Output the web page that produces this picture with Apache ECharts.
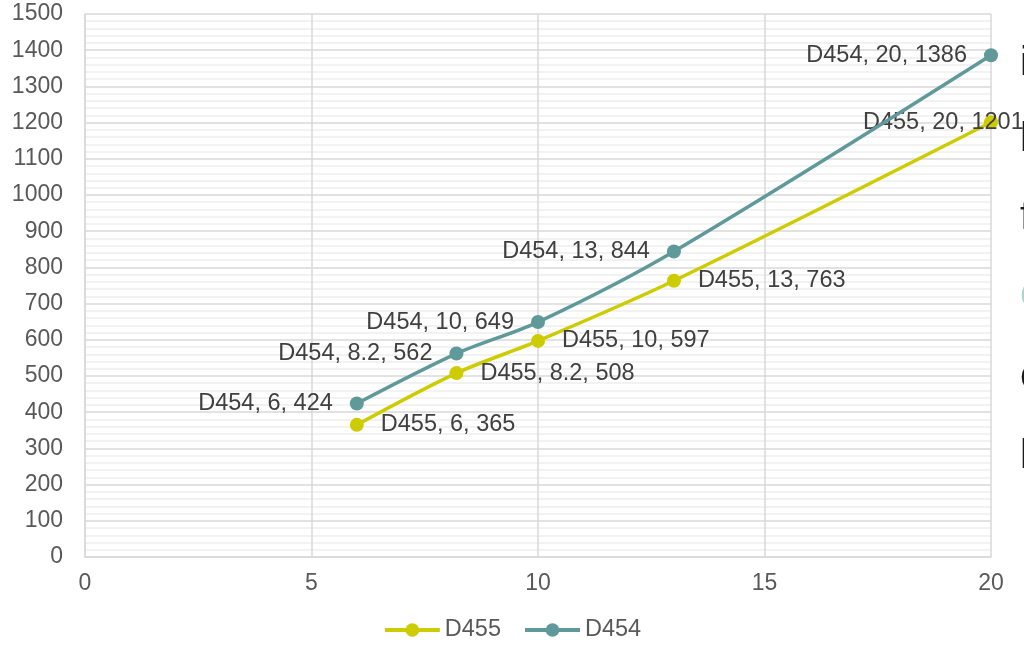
<!DOCTYPE html>
<html>
<head>
<meta charset="utf-8">
<title>D455 / D454</title>
<script src="https://cdn.jsdelivr.net/npm/echarts@6/dist/echarts.min.js"></script>
<style>
  html, body { margin: 0; padding: 0; background: #ffffff; }
  #chart { width: 1024px; height: 648px; }
</style>
</head>
<body>
<div id="chart"></div>
<script>
// Measurements: x position and value for each series
const xValues = [6, 8.2, 10, 13, 20];
const d455Values = [365, 508, 597, 763, 1201];
const d454Values = [424, 562, 649, 844, 1386];
const seriesNames = ['D455', 'D454'];
const seriesColors = ['#cccc00', '#5f9999'];

// Fragments of neighbouring text cut off at the right edge
const sideFragments = [
  { text: 'i', y: 64, color: '#1a1a1a' },
  { text: 'l', y: 140, color: '#1a1a1a' },
  { text: 'f', y: 218, color: '#1a1a1a' },
  { text: 'o', y: 295, color: '#b5d0d0' },
  { text: 'c', y: 377, color: '#1a1a1a' },
  { text: 'l', y: 457, color: '#1a1a1a' }
];

const FONT = '"Liberation Sans", Arial, sans-serif';

function pairs(xs, ys) {
  return xs.map((x, i) => [x, ys[i]]);
}

function labelFmt(p) {
  return p.seriesName + ', ' + p.value[0] + ', ' + p.value[1];
}

const d455Data = pairs(xValues, d455Values).map((v, i) => {
  if (i === xValues.length - 1) {
    // last label is pushed back inside the plot
    return { value: v, label: { position: 'right', offset: [-152, 0] } };
  }
  return { value: v };
});
const d454Data = pairs(xValues, d454Values);

const chart = echarts.init(document.getElementById('chart'), null, { renderer: 'canvas' });

chart.setOption({
  backgroundColor: '#ffffff',
  animation: false,
  textStyle: { fontFamily: FONT },
  grid: { left: 85, right: 33, top: 14, bottom: 91, containLabel: false },
  legend: {
    bottom: 1,
    left: 'center',
    itemWidth: 55,
    itemHeight: 17,
    itemGap: 22,
    data: seriesNames,
    lineStyle: { width: 4 },
    textStyle: { fontFamily: FONT, fontSize: 23.5, color: '#595959' }
  },
  xAxis: {
    type: 'value',
    min: 0,
    max: 20,
    interval: 5,
    axisLine: { show: true, lineStyle: { color: '#d9d9d9', width: 1.5 } },
    axisTick: { show: false },
    axisLabel: { fontFamily: FONT, fontSize: 23, color: '#595959', margin: 15 },
    splitLine: { show: true, lineStyle: { color: '#d9d9d9', width: 1.5 } }
  },
  yAxis: {
    type: 'value',
    min: 0,
    max: 1500,
    interval: 100,
    axisLine: { show: true, lineStyle: { color: '#d9d9d9', width: 1.5 } },
    axisTick: { show: false },
    axisLabel: {
      fontFamily: FONT, fontSize: 23, color: '#595959', margin: 22,
      formatter: v => String(v)
    },
    splitLine: { show: true, lineStyle: { color: '#d9d9d9', width: 1.5 } },
    minorTick: { show: false, splitNumber: 5 },
    minorSplitLine: { show: true, lineStyle: { color: '#eeeeee', width: 1.5 } }
  },
  series: [
    {
      name: seriesNames[0],
      type: 'line',
      smooth: 0.3,
      data: d455Data,
      color: seriesColors[0],
      lineStyle: { width: 3.5, color: seriesColors[0] },
      symbol: 'circle',
      symbolSize: 14,
      itemStyle: { color: seriesColors[0] },
      label: {
        show: true,
        position: 'right',
        distance: 17,
        formatter: labelFmt,
        fontFamily: FONT,
        fontSize: 23.5,
        color: '#404040'
      },
      z: 3
    },
    {
      name: seriesNames[1],
      type: 'line',
      smooth: 0.3,
      data: d454Data,
      color: seriesColors[1],
      lineStyle: { width: 3.5, color: seriesColors[1] },
      symbol: 'circle',
      symbolSize: 14,
      itemStyle: { color: seriesColors[1] },
      label: {
        show: true,
        position: 'left',
        distance: 17,
        formatter: labelFmt,
        fontFamily: FONT,
        fontSize: 23.5,
        color: '#404040'
      },
      z: 4
    }
  ],
  graphic: sideFragments.map(f => ({
    type: 'text',
    left: 1020,
    top: f.y - 20,
    silent: true,
    style: {
      text: f.text,
      fill: f.color,
      font: '40px ' + FONT
    }
  }))
});
</script>
</body>
</html>
